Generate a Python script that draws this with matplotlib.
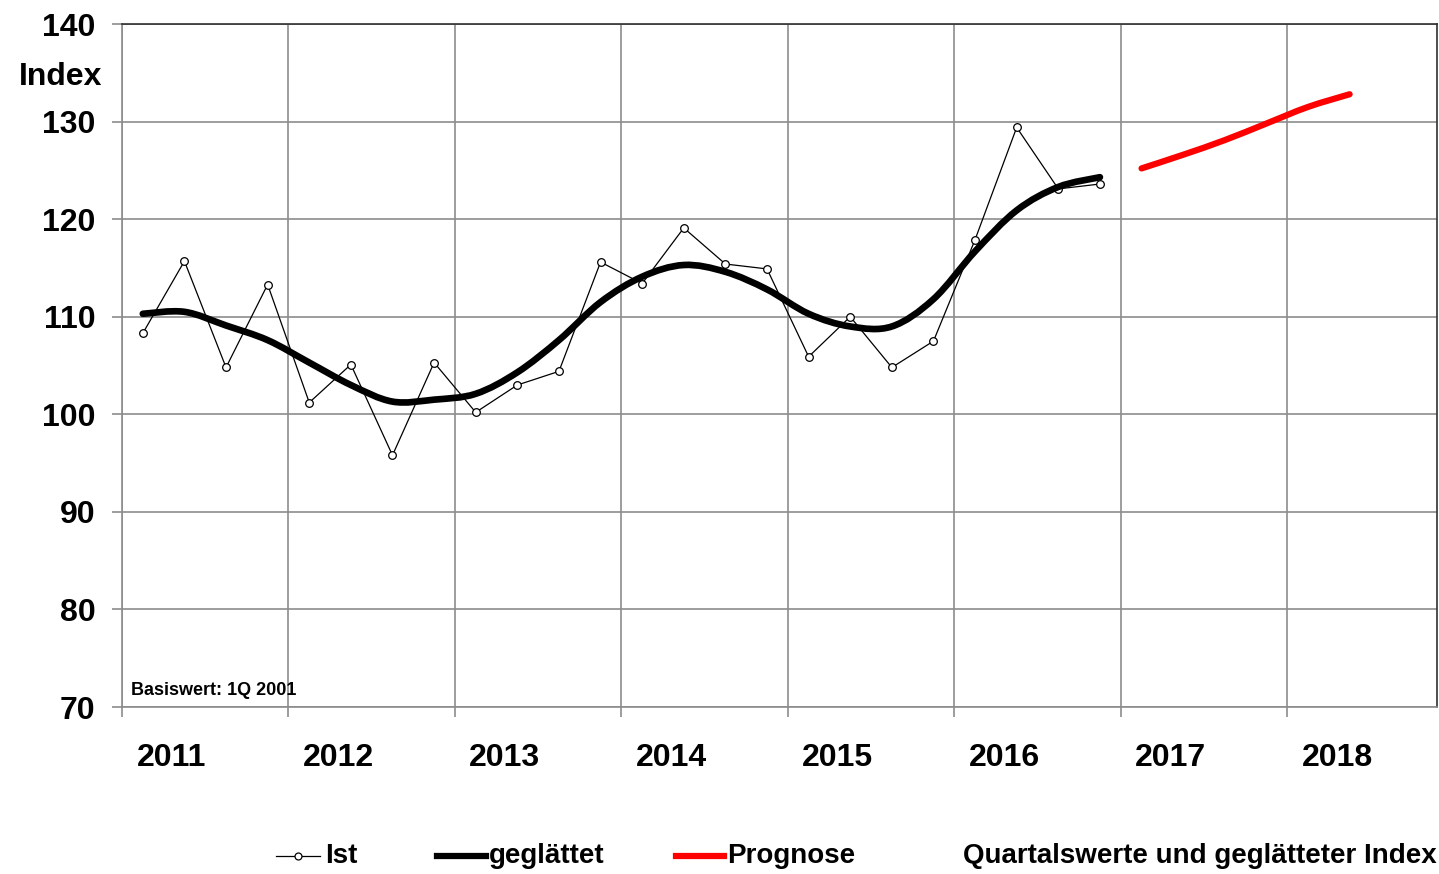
import matplotlib
matplotlib.use('Agg')
import matplotlib.pyplot as plt
import numpy as np
from matplotlib.path import Path
from matplotlib.patches import PathPatch
from matplotlib.lines import Line2D

plt.rcParams['font.family'] = ['Liberation Sans', 'DejaVu Sans']
plt.rcParams['font.weight'] = 'bold'

# Quarterly data (2011 Q1 - 2016 Q4), forecast 2017 Q1 - 2018 Q2
years = [2011, 2012, 2013, 2014, 2015, 2016, 2017, 2018]
ist = [108.3, 115.7, 104.8, 113.3,
       101.2, 105.1, 95.8, 105.3,
       100.2, 103.0, 104.4, 115.6,
       113.4, 119.1, 115.4, 114.9,
       105.9, 110.0, 104.8, 107.5,
       117.9, 129.4, 123.1, 123.6]
geglaettet = [110.3, 110.5, 109.1, 107.6,
              105.3, 103.0, 101.3, 101.5,
              102.1, 104.3, 107.6, 111.5,
              114.1, 115.3, 114.6, 112.8,
              110.3, 109.0, 109.0, 111.8,
              116.7, 120.9, 123.3, 124.3]
prognose = [125.2, 126.6, 128.1, 129.8, 131.5, 132.8]

# quarter positions in year units (centre of each quarter)
q_ist = np.array([2011 + i / 4 + 0.125 for i in range(len(ist))])
q_prog = np.array([2017 + i / 4 + 0.125 for i in range(len(prognose))])


def smooth_path(x, y):
    # Excel-like smoothed line: Catmull-Rom converted to cubic Bezier
    pts = np.column_stack([x, y])
    verts = [pts[0]]
    codes = [Path.MOVETO]
    n = len(pts)
    for i in range(n - 1):
        p0 = pts[max(i - 1, 0)]
        p1 = pts[i]
        p2 = pts[i + 1]
        p3 = pts[min(i + 2, n - 1)]
        c1 = p1 + (p2 - p0) / 6
        c2 = p2 - (p3 - p1) / 6
        verts += [c1, c2, p2]
        codes += [Path.CURVE4] * 3
    return Path(verts, codes)


fig = plt.figure(figsize=(14.39, 8.74), dpi=100)
ax = fig.add_axes([122 / 1439, 1 - 707 / 874, (1437 - 122) / 1439, (707 - 24) / 874])

grid_col = '#8c8c8c'
ax.set_xlim(2011, 2011 + 7.90)
ax.set_ylim(70, 140)
ax.set_xticks(years)
ax.set_xticklabels([])
ax.set_yticks(range(70, 141, 10))
ax.grid(True, color=grid_col, linewidth=1.2)
ax.set_axisbelow(True)
ax.tick_params(axis='both', direction='out', length=7.2, width=1.2, color=grid_col)
ax.tick_params(axis='y', labelsize=23, pad=12)
for lbl in ax.get_yticklabels():
    lbl.set_fontweight('bold')
for side in ['left', 'bottom']:
    ax.spines[side].set_color(grid_col)
    ax.spines[side].set_linewidth(1.2)
for side in ['top', 'right']:
    ax.spines[side].set_color('#303030')
    ax.spines[side].set_linewidth(1.2)

# series
ax.plot(q_ist, ist, color='black', linewidth=0.9, marker='o', markersize=5.5,
        markerfacecolor='white', markeredgecolor='black', markeredgewidth=0.9, zorder=3)
ax.add_patch(PathPatch(smooth_path(q_ist, geglaettet), fill=False, edgecolor='black',
                       linewidth=4.8, capstyle='round', zorder=4))
ax.add_patch(PathPatch(smooth_path(q_prog, prognose), fill=False, edgecolor='#ff0000',
                       linewidth=4.5, capstyle='round', zorder=4))

# year labels
for yr in years:
    ax.text(yr + 0.30, -0.074, str(yr), transform=ax.get_xaxis_transform(),
            ha='center', va='center', fontsize=23, fontweight='bold')

ax.text(0.007, 0.012, 'Basiswert: 1Q 2001', transform=ax.transAxes,
        ha='left', va='bottom', fontsize=13, fontweight='bold')

fig.text(102 / 1439, 1 - 77 / 874, 'Index', ha='right', va='center',
         fontsize=23, fontweight='bold')

# legend (manual, bottom row)
ly = 1 - 856 / 874
W = 1439
fig.add_artist(Line2D([276 / W, 320 / W], [ly, ly], color='black', linewidth=0.9,
                      transform=fig.transFigure))
fig.add_artist(Line2D([298 / W], [ly], color='black', marker='o', markersize=5,
                      markerfacecolor='white', markeredgewidth=0.9, transform=fig.transFigure))
fig.text(325 / W, ly, 'Ist', ha='left', va='center', fontsize=20, fontweight='bold')
fig.add_artist(Line2D([437 / W, 486 / W], [ly, ly], color='black', linewidth=4.5,
                      transform=fig.transFigure))
fig.text(489 / W, ly, 'geglättet', ha='left', va='center', fontsize=20, fontweight='bold')
fig.add_artist(Line2D([676 / W, 724 / W], [ly, ly], color='#ff0000', linewidth=4.5,
                      transform=fig.transFigure))
fig.text(727 / W, ly, 'Prognose', ha='left', va='center', fontsize=20, fontweight='bold')
fig.text(963 / W, ly, 'Quartalswerte und geglätteter Index', ha='left', va='center',
         fontsize=20, fontweight='bold')

fig.savefig('out.png', dpi=100)
